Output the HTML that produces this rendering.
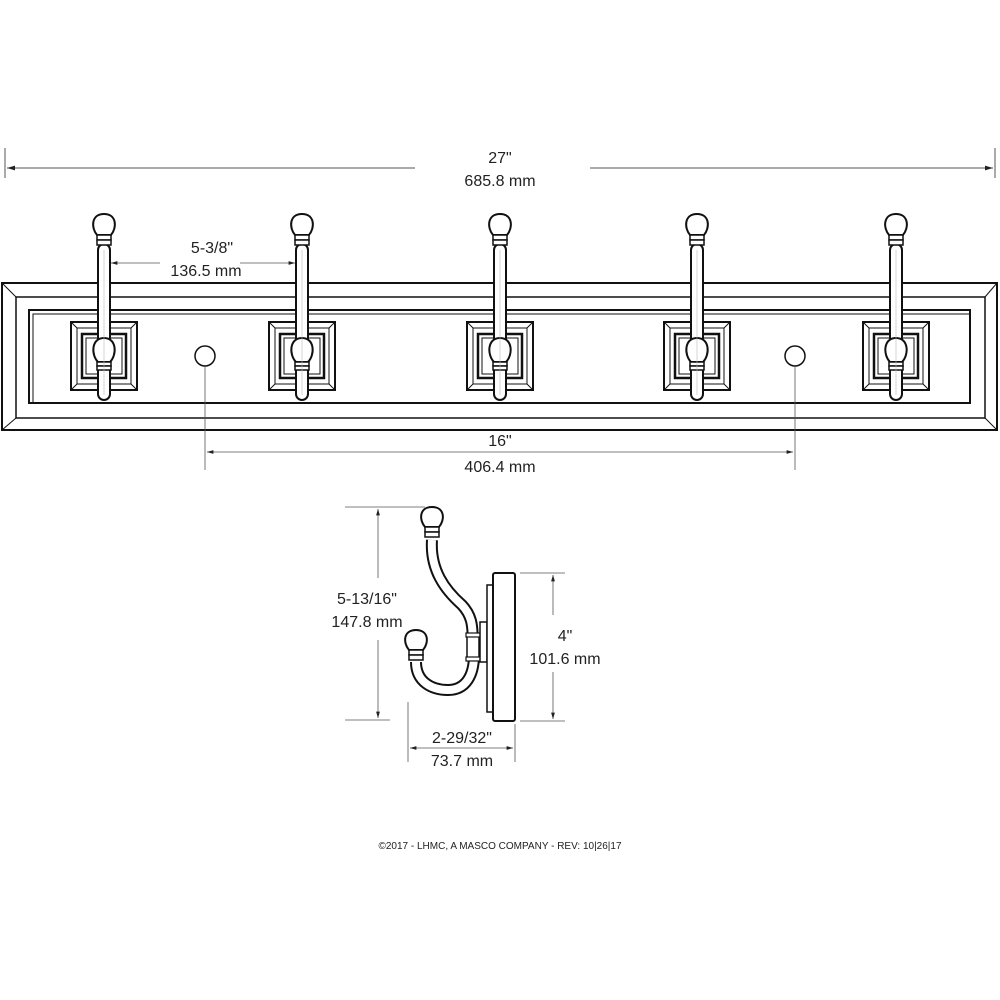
<!DOCTYPE html>
<html><head><meta charset="utf-8"><style>
html,body{margin:0;padding:0;background:#fff}
svg{display:block}
text{font-family:"Liberation Sans",Arial,sans-serif;fill:#222}
</style></head><body>
<svg width="1000" height="1000" viewBox="0 0 1000 1000" xmlns="http://www.w3.org/2000/svg">
<defs>
<marker id="ar" viewBox="0 0 10 10" refX="10" refY="5" markerWidth="8" markerHeight="8" orient="auto-start-reverse"><path d="M0,2 L10,5 L0,8 z" fill="#222"/></marker>
<g id="plate" fill="none" stroke="#111">
<rect x="-33" y="322" width="66" height="68" stroke-width="2"/>
<rect x="-27" y="328" width="54" height="56" stroke-width="1"/>
<line x1="-33" y1="322" x2="-27" y2="328" stroke-width="1"/><line x1="33" y1="322" x2="27" y2="328" stroke-width="1"/>
<line x1="-33" y1="390" x2="-27" y2="384" stroke-width="1"/><line x1="33" y1="390" x2="27" y2="384" stroke-width="1"/>
<rect x="-22" y="334" width="44" height="44" stroke-width="2.5"/>
<rect x="-18" y="338" width="36" height="36" stroke-width="1"/>
</g>
<g id="hook" stroke="#111" fill="#fff">
<rect x="-6" y="244" width="12" height="156" rx="6" stroke-width="2"/>
<path d="M-7,235 C-13,228 -13,214 0,214 C13,214 13,228 7,235 Z" stroke-width="2"/>
<rect x="-7" y="235" width="14" height="5" stroke-width="1.5"/>
<rect x="-7" y="240" width="14" height="5" stroke-width="1.5"/>
<path d="M-6,362 C-13,355 -13,338 0,338 C13,338 13,355 6,362 Z" stroke-width="2"/>
<rect x="-7" y="362" width="14" height="4" stroke-width="1.5"/>
<rect x="-7" y="366" width="14" height="4" stroke-width="1.5"/>
<line x1="0" y1="250" x2="0" y2="395" stroke="#bbb" stroke-width="0.6"/>
</g>
</defs>

<g stroke="#555" stroke-width="1">
<line x1="5" y1="148" x2="5" y2="178"/><line x1="995" y1="148" x2="995" y2="178"/>
<line x1="7" y1="168" x2="415" y2="168" marker-start="url(#ar)"/>
<line x1="590" y1="168" x2="993" y2="168" marker-end="url(#ar)"/>
</g>
<text x="500" y="163" font-size="16" text-anchor="middle">27"</text>
<text x="500" y="186" font-size="16" text-anchor="middle">685.8 mm</text>

<g fill="none" stroke="#111">
<rect x="2" y="283" width="995" height="147" stroke-width="2"/>
<rect x="16" y="297" width="969" height="121" stroke-width="1.5"/>
<line x1="2" y1="283" x2="16" y2="297"/><line x1="997" y1="283" x2="985" y2="297"/>
<line x1="2" y1="430" x2="16" y2="418"/><line x1="997" y1="430" x2="985" y2="418"/>
<rect x="29" y="310" width="941" height="93" stroke-width="2"/>
<polyline points="33,403 33,314 970,314" stroke-width="1"/>
<circle cx="205" cy="356" r="10" stroke-width="1.5"/>
<circle cx="795" cy="356" r="10" stroke-width="1.5"/>
</g>
<use href="#plate" x="104"/><use href="#plate" x="302"/><use href="#plate" x="500"/><use href="#plate" x="697"/><use href="#plate" x="896"/>
<use href="#hook" x="104"/><use href="#hook" x="302"/><use href="#hook" x="500"/><use href="#hook" x="697"/><use href="#hook" x="896"/>

<g stroke="#555" stroke-width="0.8">
<line x1="111" y1="263" x2="160" y2="263" marker-start="url(#ar)"/>
<line x1="240" y1="263" x2="295" y2="263" marker-end="url(#ar)"/>
</g>
<text x="212" y="253" font-size="16" text-anchor="middle">5-3/8"</text>
<text x="206" y="276" font-size="16" text-anchor="middle">136.5 mm</text>

<g stroke="#555" stroke-width="0.8">
<line x1="205" y1="366" x2="205" y2="470"/><line x1="795" y1="366" x2="795" y2="470"/>
<line x1="207" y1="452" x2="793" y2="452" marker-start="url(#ar)" marker-end="url(#ar)"/>
</g>
<text x="500" y="446" font-size="16" text-anchor="middle">16"</text>
<text x="500" y="472" font-size="16" text-anchor="middle">406.4 mm</text>

<g stroke="#111" fill="#fff">
<path d="M432,540 C430,570 445,590 462,605 C474,618 472,630 473,640" fill="none" stroke-width="12"/>
<path d="M432,540 C430,570 445,590 462,605 C474,618 472,630 473,640" fill="none" stroke="#fff" stroke-width="8"/>
<path d="M416,662 C416,682 432,690 448,690 C466,690 474,675 474,655" fill="none" stroke-width="12"/>
<path d="M416,662 C416,682 432,690 448,690 C466,690 474,675 474,655" fill="none" stroke="#fff" stroke-width="8"/>
<rect x="467" y="634" width="12" height="26" stroke-width="1.5"/>
<rect x="466" y="633" width="15" height="4" stroke-width="1.2"/>
<rect x="466" y="657" width="15" height="4" stroke-width="1.2"/>
<rect x="480" y="622" width="7" height="40" stroke-width="1.5"/>
<rect x="487" y="585" width="6" height="127" stroke-width="1.5"/>
<rect x="493" y="573" width="22" height="148" rx="2" stroke-width="2"/>
<path d="M425,527 C419,520 419,507 432,507 C445,507 445,520 439,527 Z" stroke-width="2"/>
<rect x="425" y="527" width="14" height="5" stroke-width="1.5"/>
<rect x="425" y="532" width="14" height="5" stroke-width="1.5"/>
<path d="M409,650 C403,643 403,630 416,630 C429,630 429,643 423,650 Z" stroke-width="2"/>
<rect x="409" y="650" width="14" height="5" stroke-width="1.5"/>
<rect x="409" y="655" width="14" height="5" stroke-width="1.5"/>
</g>
<g stroke="#555" stroke-width="0.8">
<line x1="345" y1="507" x2="425" y2="507"/><line x1="345" y1="720" x2="390" y2="720"/>
<line x1="378" y1="509" x2="378" y2="578" marker-start="url(#ar)"/>
<line x1="378" y1="640" x2="378" y2="718" marker-end="url(#ar)"/>
<line x1="520" y1="573" x2="565" y2="573"/><line x1="520" y1="721" x2="565" y2="721"/>
<line x1="553" y1="575" x2="553" y2="615" marker-start="url(#ar)"/>
<line x1="553" y1="672" x2="553" y2="719" marker-end="url(#ar)"/>
<line x1="408" y1="702" x2="408" y2="762"/><line x1="515" y1="724" x2="515" y2="762"/>
<line x1="410" y1="748" x2="513" y2="748" marker-start="url(#ar)" marker-end="url(#ar)"/>
</g>
<text x="367" y="604" font-size="16" text-anchor="middle">5-13/16"</text>
<text x="367" y="627" font-size="16" text-anchor="middle">147.8 mm</text>
<text x="565" y="641" font-size="16" text-anchor="middle">4"</text>
<text x="565" y="664" font-size="16" text-anchor="middle">101.6 mm</text>
<text x="462" y="743" font-size="16" text-anchor="middle">2-29/32"</text>
<text x="462" y="766" font-size="16" text-anchor="middle">73.7 mm</text>

<text x="500" y="849" font-size="10" text-anchor="middle" fill="#444">©2017 - LHMC, A MASCO COMPANY - REV: 10|26|17</text>
</svg>
</body></html>
